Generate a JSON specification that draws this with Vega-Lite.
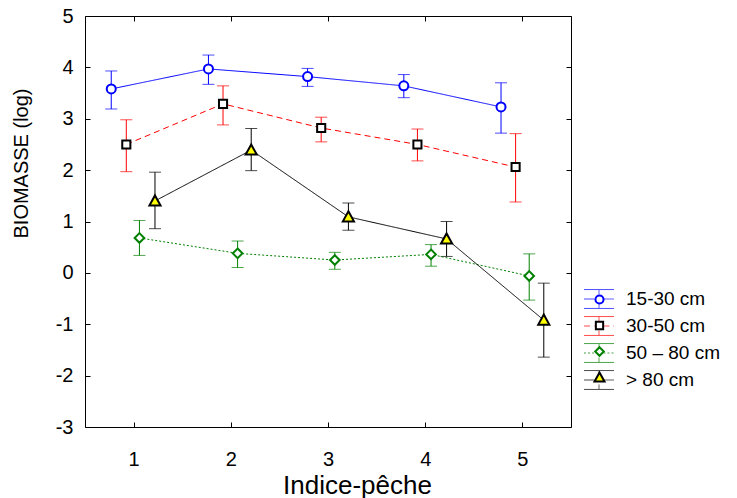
{
  "$schema": "https://vega.github.io/schema/vega-lite/v6.json",
  "width": 486,
  "height": 411,
  "autosize": {"type": "none"},
  "padding": {"left": 85, "top": 16, "right": 166, "bottom": 71},
  "background": "white",
  "config": {
    "view": {"stroke": "#000", "strokeWidth": 1},
    "font": "Liberation Sans",
    "axis": {
      "grid": false, "domain": false, "tickColor": "#000", "tickSize": -5, "tickWidth": 1,
      "labelFont": "Liberation Sans", "labelFontSize": 20, "labelColor": "#000",
      "titleFont": "Liberation Sans", "titleColor": "#000", "titleFontWeight": "normal"
    }
  },
  "data": {
    "values": [
      {"x": 0.77, "serie": "15-30 cm", "g": "a", "y": 3.58, "lo": 3.19, "hi": 3.93},
      {"x": 1.77, "serie": "15-30 cm", "g": "a", "y": 3.97, "lo": 3.67, "hi": 4.24},
      {"x": 2.79, "serie": "15-30 cm", "g": "a", "y": 3.82, "lo": 3.63, "hi": 3.98},
      {"x": 3.78, "serie": "15-30 cm", "g": "a", "y": 3.64, "lo": 3.41, "hi": 3.86},
      {"x": 4.78, "serie": "15-30 cm", "g": "a", "y": 3.23, "lo": 2.72, "hi": 3.70},
      {"x": 0.925, "serie": "30-50 cm", "g": "b", "y": 2.50, "lo": 1.97, "hi": 2.98},
      {"x": 1.92, "serie": "30-50 cm", "g": "b", "y": 3.29, "lo": 2.88, "hi": 3.64},
      {"x": 2.93, "serie": "30-50 cm", "g": "b", "y": 2.82, "lo": 2.55, "hi": 3.03},
      {"x": 3.92, "serie": "30-50 cm", "g": "b", "y": 2.50, "lo": 2.18, "hi": 2.80},
      {"x": 4.93, "serie": "30-50 cm", "g": "b", "y": 2.06, "lo": 1.38, "hi": 2.71},
      {"x": 1.06, "serie": "50 – 80 cm", "g": "c", "y": 0.68, "lo": 0.34, "hi": 1.02},
      {"x": 2.07, "serie": "50 – 80 cm", "g": "c", "y": 0.38, "lo": 0.105, "hi": 0.62},
      {"x": 3.07, "serie": "50 – 80 cm", "g": "c", "y": 0.25, "lo": 0.07, "hi": 0.40},
      {"x": 4.06, "serie": "50 – 80 cm", "g": "c", "y": 0.36, "lo": 0.13, "hi": 0.55},
      {"x": 5.07, "serie": "50 – 80 cm", "g": "c", "y": -0.06, "lo": -0.53, "hi": 0.37},
      {"x": 1.22, "serie": "> 80 cm", "g": "d", "y": 1.40, "lo": 0.86, "hi": 1.96},
      {"x": 2.21, "serie": "> 80 cm", "g": "d", "y": 2.39, "lo": 1.99, "hi": 2.81},
      {"x": 3.21, "serie": "> 80 cm", "g": "d", "y": 1.09, "lo": 0.83, "hi": 1.36},
      {"x": 4.22, "serie": "> 80 cm", "g": "d", "y": 0.66, "lo": 0.32, "hi": 1.00},
      {"x": 5.22, "serie": "> 80 cm", "g": "d", "y": -0.92, "lo": -1.64, "hi": -0.20}
    ]
  },
  "layer": [
    {
      "mark": {"type": "rule", "strokeWidth": 1},
      "encoding": {
        "x": {"field": "x", "type": "quantitative", "scale": {"domain": [0.5, 5.5], "nice": false, "zero": false},
          "axis": {"orient": "bottom", "values": [1, 2, 3, 4, 5], "labelExpr": "'' + datum.value", "labelPadding": 27,
            "title": "Indice-pêche", "titleFontSize": 26, "titleX": 272, "titleY": 66, "titleAlign": "center", "titleBaseline": "alphabetic"}},
        "y": {"field": "lo", "type": "quantitative", "scale": {"domain": [-3, 5], "nice": false, "zero": false},
          "axis": {"orient": "left", "values": [-3, -2, -1, 0, 1, 2, 3, 4, 5], "labelExpr": "'' + datum.value", "labelPadding": 17,
            "title": "BIOMASSE (log)", "titleFontSize": 20, "titleAngle": 270, "titleX": -64, "titleY": 147, "titleAlign": "center", "titleBaseline": "middle"}},
        "y2": {"field": "hi"},
        "color": {"field": "serie", "type": "nominal",
          "scale": {"domain": ["15-30 cm", "30-50 cm", "50 – 80 cm", "> 80 cm"], "range": ["#0000ff", "#ff0000", "#008000", "#000000"]}}
      }
    },
    {
      "mark": {"type": "tick", "orient": "horizontal", "size": 12, "thickness": 1},
      "encoding": {
        "x": {"field": "x", "type": "quantitative", "axis": {"orient": "top", "values": [1, 2, 3, 4, 5], "labels": false, "title": null}},
        "y": {"field": "hi", "type": "quantitative", "axis": {"orient": "right", "values": [-3, -2, -1, 0, 1, 2, 3, 4, 5], "labels": false, "title": null}},
        "color": {"field": "serie", "type": "nominal"}
      }
    },
    {
      "mark": {"type": "tick", "orient": "horizontal", "size": 12, "thickness": 1},
      "encoding": {
        "x": {"field": "x", "type": "quantitative", "axis": null},
        "y": {"field": "lo", "type": "quantitative", "axis": null},
        "color": {"field": "serie", "type": "nominal"}
      }
    },
    {
      "mark": {"type": "line", "strokeWidth": 1},
      "encoding": {
        "x": {"field": "x", "type": "quantitative", "axis": null},
        "y": {"field": "y", "type": "quantitative", "axis": null},
        "color": {"field": "serie", "type": "nominal",
          "legend": {
            "title": null, "orient": "none", "legendX": 500, "legendY": 269, "padding": 0,
            "symbolSize": 729, "symbolStrokeWidth": 1, "rowPadding": 1,
            "symbolType": "M-1.11,-0.7L-0.962,-0.7M-0.962,-0.7L-0.814,-0.7M-0.814,-0.7L-0.666,-0.7M-0.666,-0.7L-0.518,-0.7M-0.518,-0.7L-0.37,-0.7M-0.37,-0.7L-0.222,-0.7M-0.222,-0.7L-0.074,-0.7M-0.074,-0.7L0.074,-0.7M0.074,-0.7L0.222,-0.7M0.222,-0.7L0.37,-0.7M0.37,-0.7L0.518,-0.7M0.518,-0.7L0.666,-0.7M0.666,-0.7L0.814,-0.7M0.814,-0.7L0.962,-0.7M0.962,-0.7L1.11,-0.7M-1.11,0.7L-0.962,0.7M-0.962,0.7L-0.814,0.7M-0.814,0.7L-0.666,0.7M-0.666,0.7L-0.518,0.7M-0.518,0.7L-0.37,0.7M-0.37,0.7L-0.222,0.7M-0.222,0.7L-0.074,0.7M-0.074,0.7L0.074,0.7M0.074,0.7L0.222,0.7M0.222,0.7L0.37,0.7M0.37,0.7L0.518,0.7M0.518,0.7L0.666,0.7M0.666,0.7L0.814,0.7M0.814,0.7L0.962,0.7M0.962,0.7L1.11,0.7M0,-0.7L0,-0.577M0,-0.577L0,-0.453M0,-0.453L0,-0.33M0,0.33L0,0.453M0,0.453L0,0.577M0,0.577L0,0.7M-1.11,0L-0.33,0M0.33,0L1.11,0",
            "labelFont": "Liberation Sans", "labelFontSize": 19, "labelColor": "#000", "labelOffset": 13,
            "labelExpr": "(datum.value === '15-30 cm' ? '' : datum.value === '> 80 cm' ? '\u00a0\u00a0' : '\u00a0') + datum.label"
          }},
        "strokeDash": {"field": "serie", "type": "nominal",
          "scale": {"domain": ["15-30 cm", "30-50 cm", "50 – 80 cm", "> 80 cm"], "range": [[1, 0], [6, 4], [2, 2], [1, 0]]}}
      }
    },
    {
      "mark": {"type": "point", "filled": true, "strokeWidth": 2, "opacity": 1, "size": 900},
      "encoding": {
        "x": {"field": "x", "type": "quantitative", "axis": null},
        "y": {"field": "y", "type": "quantitative", "axis": null},
        "shape": {"field": "g", "type": "nominal",
          "scale": {"domain": ["a", "b", "c", "d"], "range": [
            "M0.3,0A0.3,0.3,0,1,1,-0.3,0A0.3,0.3,0,1,1,0.3,0Z",
            "M-0.27,-0.27L0.27,-0.27L0.27,0.27L-0.27,0.27Z",
            "M0,-0.32L0.32,0L0,0.32L-0.32,0Z",
            "M0,-0.37L0.37,0.3L-0.37,0.3Z"]},
          "legend": {
            "title": null, "orient": "none", "legendX": 500, "legendY": 269, "padding": 0,
            "symbolSize": 729, "symbolStrokeWidth": 2, "rowPadding": 1,
            "labelFont": "Liberation Sans", "labelFontSize": 19, "labelExpr": "''", "labelOffset": 13
          }},
        "fill": {"field": "g", "type": "nominal", "scale": {"domain": ["a", "b", "c", "d"], "range": ["#ffffff", "#ffffff", "#ffffff", "#ffff00"]}},
        "stroke": {"field": "g", "type": "nominal", "scale": {"domain": ["a", "b", "c", "d"], "range": ["#0000ff", "#000000", "#008000", "#000000"]}}
      }
    }
  ],
  "resolve": {"axis": {"x": "independent", "y": "independent"}}
}
